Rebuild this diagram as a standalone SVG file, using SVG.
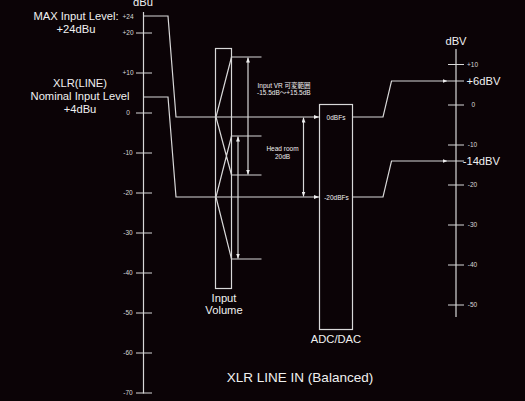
<svg xmlns="http://www.w3.org/2000/svg" width="525" height="401" viewBox="0 0 525 401">
<style>
.ln{fill:none;stroke:#d8d8d8;stroke-width:1.2}
.t{font-family:"Liberation Sans",Arial,"Noto Sans CJK JP",sans-serif;fill:#f0f0f0}
.big{font-size:11.2px}
.sm{font-size:6.5px;fill:#d8d8d8}
.mid{text-anchor:middle}
</style>
<defs>
<marker id="ah" viewBox="0 0 10 8" refX="10" refY="4" markerWidth="5" markerHeight="4" markerUnits="userSpaceOnUse" orient="auto-start-reverse">
<path d="M0,0 L10,4 L0,8 Z" fill="#eeeeee"/>
</marker>
</defs>
<rect width="525" height="401" fill="#0b0306"/>

<g id="dbu-scale">
<line class="ln" x1="143.5" y1="12" x2="143.5" y2="393.5"/>
<path class="ln" d="M136,33H152M136,73H152M136,113H152M136,153H152M136,193H152M136,233H152M136,273H152M136,313H152M136,353H152M136,393H152"/>
<text class="t big mid" x="143" y="6">dBu</text>
<g class="t sm mid">
<text x="128" y="18.5">+24</text>
<text x="128" y="35.3">+20</text>
<text x="128" y="75.3">+10</text>
<text x="128" y="115.3">0</text>
<text x="128" y="155.3">-10</text>
<text x="128" y="195.3">-20</text>
<text x="128" y="235.3">-30</text>
<text x="128" y="275.3">-40</text>
<text x="128" y="315.3">-50</text>
<text x="128" y="355.3">-60</text>
<text x="128" y="395.3">-70</text>
</g>
</g>

<g id="labels-left" class="t big mid">
<text x="76" y="20">MAX Input Level:</text>
<text x="76" y="33">+24dBu</text>
<text x="80" y="86.5">XLR(LINE)</text>
<text x="80" y="100">Nominal Input Level</text>
<text x="80" y="112.5">+4dBu</text>
</g>

<g id="input-volume">
<rect class="ln" x="215.5" y="48.5" width="16" height="240"/>
<path class="ln" d="M216,117L231.5,57M216,117L231.5,175M216,197L231.5,136M216,197L231.5,259"/>
<path class="ln" d="M231.5,57H261.5M231.5,136H261.5M231.5,175H261.5M231.5,259H261.5"/>
<text class="t big mid" x="224" y="302">Input</text>
<text class="t big mid" x="224" y="314">Volume</text>
</g>

<g id="adc-dac">
<rect class="ln" x="319.5" y="104.5" width="33" height="225"/>
<text class="t sm mid" x="336" y="119.5" style="fill:#f0f0f0">0dBFs</text>
<text class="t sm mid" x="336.5" y="199.5" style="fill:#f0f0f0">-20dBFs</text>
<text class="t big mid" x="336" y="343">ADC/DAC</text>
</g>

<g id="dbv-scale">
<line class="ln" x1="456" y1="49" x2="456" y2="317"/>
<path class="ln" d="M448,64.5H464M448,105H464M448,145H464M448,185H464M448,225H464M448,265H464M448,305H464M447.5,81H464M447.5,161H464"/>
<text class="t big mid" x="456" y="45">dBV</text>
<g class="t sm mid">
<text x="472.5" y="66.8">+10</text>
<text x="473.3" y="107.3">0</text>
<text x="472.5" y="147.3">-10</text>
<text x="472.5" y="187.3">-20</text>
<text x="472.5" y="227.3">-30</text>
<text x="472.5" y="267.3">-40</text>
<text x="472.5" y="307.3">-50</text>
</g>
<text class="t big" x="466.5" y="85">+6dBV</text>
<text class="t big" x="462.7" y="165">-14dBV</text>
</g>

<g id="annotations">
<text class="t sm" x="257.5" y="88" style="fill:#f0f0f0">Input VR 可変範囲</text>
<text class="t sm" x="257" y="95" style="fill:#f0f0f0">-15.5dB～+15.5dB</text>
<text class="t sm mid" x="282.5" y="150.7" style="fill:#f0f0f0">Head room</text>
<text class="t sm mid" x="282.5" y="159" style="fill:#f0f0f0">20dB</text>
<text class="t mid" x="300" y="382" style="font-size:13.5px">XLR LINE IN (Balanced)</text>
</g>

<g id="connectors">
<polyline class="ln" points="143.5,16 168,16 176,117 319,117" marker-end="url(#ah)"/>
<polyline class="ln" points="143.5,97 168,97 176,197 319,197" marker-end="url(#ah)"/>
<line class="ln" x1="248" y1="57.5" x2="248" y2="174.5" marker-start="url(#ah)" marker-end="url(#ah)"/>
<line class="ln" x1="238" y1="136.5" x2="238" y2="258.5" marker-start="url(#ah)" marker-end="url(#ah)"/>
<line class="ln" x1="303.5" y1="117.5" x2="303.5" y2="196.5" marker-start="url(#ah)" marker-end="url(#ah)"/>
<polyline class="ln" points="352.5,117 383,117 391.5,81 447.5,81" marker-end="url(#ah)"/>
<polyline class="ln" points="352.5,197 383,197 391.5,161 447.5,161" marker-end="url(#ah)"/>
</g>
</svg>
